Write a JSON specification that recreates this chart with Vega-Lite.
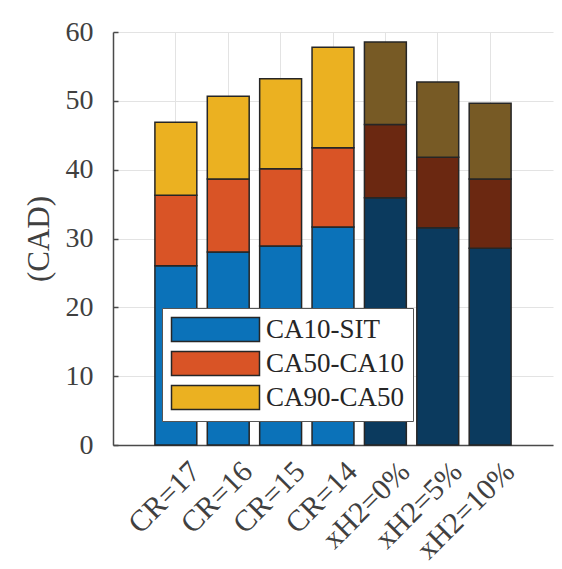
{
  "$schema": "https://vega.github.io/schema/vega-lite/v6.json",
  "width": 440,
  "height": 413,
  "autosize": {"type": "none"},
  "padding": {"left": 113, "top": 32, "right": 9, "bottom": 124},
  "background": "white",
  "config": {
    "font": "Liberation Serif",
    "view": {"stroke": null},
    "axis": {
      "labelFont": "Liberation Serif",
      "titleFont": "Liberation Serif",
      "labelColor": "#404040",
      "titleColor": "#404040",
      "domainColor": "#4a4a4a",
      "domainWidth": 1.5,
      "tickColor": "#4a4a4a",
      "tickWidth": 1.5,
      "gridColor": "#e3e3e3",
      "gridWidth": 1
    }
  },
  "data": {
    "values": [
      {"case": "CR=17", "seg": "CA10-SIT", "key": "CA10-SIT", "ord": 1, "val": 26.05},
      {"case": "CR=17", "seg": "CA50-CA10", "key": "CA50-CA10", "ord": 2, "val": 10.25},
      {"case": "CR=17", "seg": "CA90-CA50", "key": "CA90-CA50", "ord": 3, "val": 10.6},
      {"case": "CR=16", "seg": "CA10-SIT", "key": "CA10-SIT", "ord": 1, "val": 28.04},
      {"case": "CR=16", "seg": "CA50-CA10", "key": "CA50-CA10", "ord": 2, "val": 10.61},
      {"case": "CR=16", "seg": "CA90-CA50", "key": "CA90-CA50", "ord": 3, "val": 12.01},
      {"case": "CR=15", "seg": "CA10-SIT", "key": "CA10-SIT", "ord": 1, "val": 28.9},
      {"case": "CR=15", "seg": "CA50-CA10", "key": "CA50-CA10", "ord": 2, "val": 11.25},
      {"case": "CR=15", "seg": "CA90-CA50", "key": "CA90-CA50", "ord": 3, "val": 13.05},
      {"case": "CR=14", "seg": "CA10-SIT", "key": "CA10-SIT", "ord": 1, "val": 31.67},
      {"case": "CR=14", "seg": "CA50-CA10", "key": "CA50-CA10", "ord": 2, "val": 11.53},
      {"case": "CR=14", "seg": "CA90-CA50", "key": "CA90-CA50", "ord": 3, "val": 14.6},
      {"case": "xH2=0%", "seg": "CA10-SIT", "key": "CA10-SIT (xH2)", "ord": 1, "val": 35.93},
      {"case": "xH2=0%", "seg": "CA50-CA10", "key": "CA50-CA10 (xH2)", "ord": 2, "val": 10.62},
      {"case": "xH2=0%", "seg": "CA90-CA50", "key": "CA90-CA50 (xH2)", "ord": 3, "val": 12.0},
      {"case": "xH2=5%", "seg": "CA10-SIT", "key": "CA10-SIT (xH2)", "ord": 1, "val": 31.57},
      {"case": "xH2=5%", "seg": "CA50-CA10", "key": "CA50-CA10 (xH2)", "ord": 2, "val": 10.23},
      {"case": "xH2=5%", "seg": "CA90-CA50", "key": "CA90-CA50 (xH2)", "ord": 3, "val": 10.94},
      {"case": "xH2=10%", "seg": "CA10-SIT", "key": "CA10-SIT (xH2)", "ord": 1, "val": 28.57},
      {"case": "xH2=10%", "seg": "CA50-CA10", "key": "CA50-CA10 (xH2)", "ord": 2, "val": 10.08},
      {"case": "xH2=10%", "seg": "CA90-CA50", "key": "CA90-CA50 (xH2)", "ord": 3, "val": 10.99}
    ]
  },
  "mark": {"type": "bar", "stroke": "#262626", "strokeWidth": 1.5},
  "encoding": {
    "x": {
      "field": "case",
      "type": "nominal",
      "sort": ["CR=17", "CR=16", "CR=15", "CR=14", "xH2=0%", "xH2=5%", "xH2=10%"],
      "scale": {"paddingInner": 0.2, "paddingOuter": 0.8},
      "axis": {
        "title": null,
        "labelAngle": -45,
        "labelFontSize": 30,
        "labelPadding": 11,
        "labelOffset": 9,
        "labelLimit": 250,
        "ticks": false,
        "grid": true,
        "bandPosition": 0.5
      }
    },
    "y": {
      "field": "val",
      "type": "quantitative",
      "stack": "zero",
      "scale": {"domain": [0, 60], "nice": false},
      "axis": {
        "title": "(CAD)",
        "titleFontSize": 31,
        "titleFontWeight": "normal",
        "titlePadding": 10,
        "values": [0, 10, 20, 30, 40, 50, 60],
        "labelFontSize": 28,
        "tickSize": -5,
        "labelPadding": 25,
        "grid": true
      }
    },
    "order": {"field": "ord", "type": "quantitative"},
    "color": {
      "field": "key",
      "type": "nominal",
      "scale": {
        "domain": ["CA10-SIT", "CA50-CA10", "CA90-CA50", "CA10-SIT (xH2)", "CA50-CA10 (xH2)", "CA90-CA50 (xH2)"],
        "range": ["#0b72b9", "#d95426", "#ebb121", "#0b3a5e", "#6b2811", "#775a25"]
      },
      "legend": {
        "title": null,
        "values": ["CA10-SIT", "CA50-CA10", "CA90-CA50"],
        "orient": "none",
        "legendX": 49,
        "legendY": 276,
        "padding": 8,
        "fillColor": "white",
        "strokeColor": "#555555",
        "symbolType": "M-1,-1H6.333V1H-1Z",
        "symbolSize": 576,
        "symbolStrokeColor": "#262626",
        "symbolStrokeWidth": 1.5,
        "symbolOpacity": 1,
        "labelFont": "Liberation Serif",
        "labelFontSize": 27,
        "labelColor": "#262626",
        "labelOffset": 69,
        "rowPadding": 3
      }
    }
  }
}
